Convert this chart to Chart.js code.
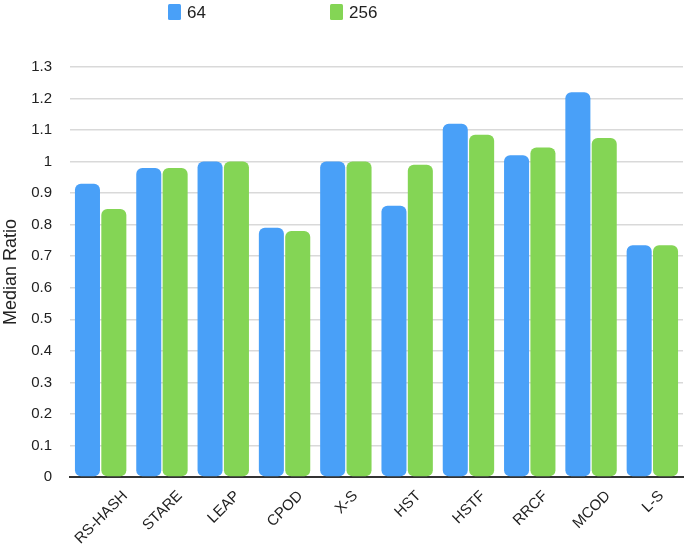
<!DOCTYPE html>
<html>
<head>
<meta charset="utf-8">
<script src="https://cdn.jsdelivr.net/npm/chart.js@4"></script>
<style>
  html, body { margin: 0; padding: 0; background: #fff; }
  #wrap { width: 685px; height: 549px; }
</style>
</head>
<body>
<div id="wrap"><canvas id="medianChart"></canvas></div>
<script>
const categories = ['RS-HASH', 'STARE', 'LEAP', 'CPOD', 'X-S', 'HST', 'HSTF', 'RRCF', 'MCOD', 'L-S'];
const series64 = [0.93, 0.98, 1.0, 0.79, 1.0, 0.86, 1.12, 1.02, 1.22, 0.735];
const series256 = [0.85, 0.98, 1.0, 0.78, 1.0, 0.99, 1.085, 1.045, 1.075, 0.735];
const seriesNames = ['64', '256'];
const yTicks = [0, 0.1, 0.2, 0.3, 0.4, 0.5, 0.6, 0.7, 0.8, 0.9, 1, 1.1, 1.2, 1.3];

const FONT = "'Liberation Sans', Arial, sans-serif";

// legend drawn by hand so the two items sit where the original has them
const topLegend = {
    id: 'topLegend',
    afterDraw(chart) {
        const ctx = chart.ctx;
        const xs = [168, 330];
        ctx.save();
        ctx.font = '17px ' + FONT;
        ctx.textBaseline = 'middle';
        chart.data.datasets.forEach((ds, i) => {
            ctx.fillStyle = ds.backgroundColor;
            ctx.beginPath();
            ctx.roundRect(xs[i], 4, 13, 16, 1.5);
            ctx.fill();
            ctx.fillStyle = '#222';
            ctx.fillText(ds.label, xs[i] + 19, 13);
        });
        ctx.restore();
    }
};

// rotated category labels, centred under each tick (Chart.js would right-align them)
const slantLabels = {
    id: 'slantLabels',
    afterDraw(chart) {
        const ctx = chart.ctx;
        const xScale = chart.scales.x;
        const top = xScale.top + 12;
        const s = Math.SQRT1_2;
        ctx.save();
        ctx.font = '15px ' + FONT;
        ctx.fillStyle = '#222';
        ctx.textAlign = 'center';
        ctx.textBaseline = 'middle';
        chart.data.labels.forEach((lab, i) => {
            const w = ctx.measureText(lab).width;
            const h = 11;
            const cx = xScale.getPixelForTick(i);
            const cy = top + (w / 2) * s + (h / 2) * s;
            ctx.save();
            ctx.translate(cx, cy);
            ctx.rotate(-Math.PI / 4);
            ctx.fillText(lab, 0, 1);
            ctx.restore();
        });
        ctx.restore();
    }
};

new Chart(document.getElementById('medianChart'), {
    type: 'bar',
    data: {
        labels: categories,
        datasets: [{
            label: seriesNames[0],
            data: series64,
            backgroundColor: '#49a0f8',
            borderRadius: 6,
            borderSkipped: false,
            barPercentage: 0.95,
            categoryPercentage: 0.86
        }, {
            label: seriesNames[1],
            data: series256,
            backgroundColor: '#84d555',
            borderRadius: 6,
            borderSkipped: false,
            barPercentage: 0.95,
            categoryPercentage: 0.86
        }]
    },
    options: {
        responsive: true,
        maintainAspectRatio: false,
        animation: false,
        layout: {
            padding: { top: 67, right: 2, left: 0, bottom: 0 }
        },
        plugins: {
            legend: { display: false },
            tooltip: { enabled: false }
        },
        scales: {
            x: {
                grid: { display: false },
                border: { color: '#333', width: 2 },
                afterFit: axis => { axis.height = 72; },
                ticks: { display: false }
            },
            y: {
                min: 0,
                max: 1.3,
                afterBuildTicks: axis => {
                    axis.ticks = yTicks.map(v => ({ value: v }));
                },
                afterFit: axis => { axis.width = 70; },
                grid: { color: '#d9d9d9', lineWidth: 1.5, drawTicks: false },
                border: { display: false },
                ticks: {
                    color: '#222',
                    font: { family: FONT, size: 15 },
                    padding: 18,
                    callback: v => String(+v.toFixed(1))
                },
                title: {
                    display: true,
                    text: 'Median Ratio',
                    color: '#222',
                    font: { family: FONT, size: 18 },
                    padding: { top: 0, bottom: 0 }
                }
            }
        }
    },
    plugins: [topLegend, slantLabels]
});
</script>
</body>
</html>
